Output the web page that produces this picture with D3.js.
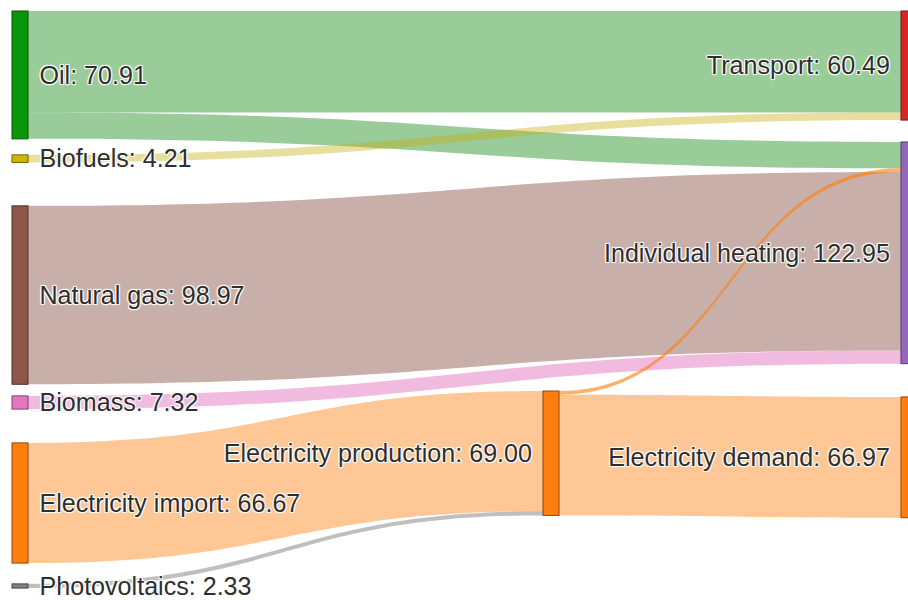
<!DOCTYPE html>
<html>
<head>
<meta charset="utf-8">
<script src="https://cdn.jsdelivr.net/npm/d3@7"></script>
<style>
  html, body { margin: 0; padding: 0; background: #fff; }
  svg { display: block; }
  .lbl {
    font-family: "Liberation Sans", Arial, sans-serif;
    font-size: 25.1px;
    fill: #2e2e2e;
    text-shadow: 1px 1px 1px #fff, -1px -1px 1px #fff, 1px -1px 1px #fff, -1px 1px 1px #fff;
  }
</style>
</head>
<body>
<script>
// ---- data ----
const nodeNames = ["Oil", "Biofuels", "Natural gas", "Biomass", "Electricity import", "Photovoltaics",
                   "Electricity production", "Transport", "Individual heating", "Electricity demand"];
const nodeColumns = [0, 0, 0, 0, 0, 0, 1, 2, 2, 2];
const linkSources = [0, 1, 0, 6, 2, 3, 4, 5, 6];
const linkTargets = [7, 7, 8, 8, 8, 8, 6, 6, 9];
const linkValues  = [56.28, 4.21, 14.63, 2.03, 98.97, 7.32, 66.67, 2.33, 66.97];

// ---- styles ----
const nodeColors = ["#0a960a", "#c9b700", "#8c564b", "#e377c2", "#ff7f0e", "#7f7f7f",
                    "#ff7f0e", "#d62728", "#9467bd", "#ff7f0e"];
const linkColors = ["rgba(0,128,0,0.4)", "rgba(197,172,12,0.4)", "rgba(0,128,0,0.4)", "rgba(255,127,14,0.62)",
                    "rgba(140,86,75,0.47)", "rgba(227,119,194,0.5)", "rgba(255,127,14,0.44)",
                    "rgba(127,127,127,0.5)", "rgba(255,127,14,0.44)"];

// ---- layout ----
const W = 908, H = 600;
const nodeWidth = 16;
const columnFrac = [0, 0.5973, 1];
const gapBefore = [11, 16, 43.4, 11.6, 33.8, 20.8, 391, 11, 21.9, 33.3]; // px spacing above each node within its column

const x = d3.scaleLinear().domain([0, 1]).range([12, 901]);
const v = d3.scaleLinear().domain([0, 100]).range([0, 180.3]);

const nodes = nodeNames.map((name, i) => ({ i, name, col: nodeColumns[i], color: nodeColors[i], inL: [], outL: [] }));
const links = linkValues.map((val, i) => ({ i, value: val, source: nodes[linkSources[i]], target: nodes[linkTargets[i]], color: linkColors[i] }));
links.forEach(l => { l.source.outL.push(l); l.target.inL.push(l); });
nodes.forEach(n => {
  n.value = Math.max(d3.sum(n.inL, l => l.value), d3.sum(n.outL, l => l.value));
  n.x0 = x(columnFrac[n.col]);
  n.x1 = n.x0 + nodeWidth;
});
// stack nodes per column
d3.groups(nodes, n => n.col).forEach(([col, ns]) => {
  let y = 0;
  ns.forEach(n => {
    n.y0 = y + gapBefore[n.i];
    n.y1 = n.y0 + v(n.value);
    y = n.y1;
  });
});
// link offsets
nodes.forEach(n => {
  let ys = n.y0;
  n.outL.forEach(l => { l.sy0 = ys; ys += v(l.value); l.sy1 = ys; });
  let yt = n.y0;
  n.inL.forEach(l => { l.ty0 = yt; yt += v(l.value); l.ty1 = yt; });
});

function linkPath(l) {
  const xs = l.source.x1, xt = l.target.x0, xm = (xs + xt) / 2;
  const p = d3.path();
  p.moveTo(xs, l.sy0);
  p.bezierCurveTo(xm, l.sy0, xm, l.ty0, xt, l.ty0);
  p.lineTo(xt, l.ty1);
  p.bezierCurveTo(xm, l.ty1, xm, l.sy1, xs, l.sy1);
  p.closePath();
  return p.toString();
}

const svg = d3.select("body").append("svg").attr("width", W).attr("height", H);

// wider flows underneath, thinner flows on top
svg.append("g").selectAll("path").data(links.slice().sort((a, b) => b.value - a.value)).join("path")
  .attr("d", linkPath)
  .attr("fill", d => d.color)
  .attr("stroke", "none");

svg.append("g").selectAll("rect").data(nodes).join("rect")
  .attr("x", d => d.x0)
  .attr("y", d => d.y0)
  .attr("width", d => d.x1 - d.x0)
  .attr("height", d => d.y1 - d.y0)
  .attr("fill", d => d.color)
  .attr("stroke", d => d3.color(d.color).darker(1.6))
  .attr("stroke-width", 1);

svg.append("g").selectAll("text").data(nodes).join("text")
  .attr("class", "lbl")
  .attr("x", d => d.x0 > W / 2 ? d.x0 - 11 : d.x1 + 11.5)
  .attr("y", d => (d.y0 + d.y1) / 2)
  .attr("dy", "0.35em")
  .attr("text-anchor", d => d.x0 > W / 2 ? "end" : "start")
  .text(d => `${d.name}: ${d.value.toFixed(2)}`);
</script>
</body>
</html>
